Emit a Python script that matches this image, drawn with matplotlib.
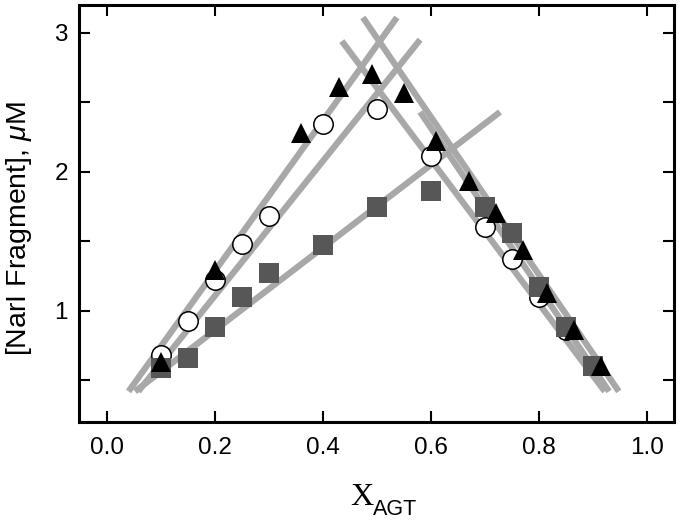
import numpy as np
import matplotlib
matplotlib.use("Agg")
import matplotlib.pyplot as plt
from matplotlib.ticker import MultipleLocator, FuncFormatter

plt.rcParams["font.family"] = ["Liberation Sans", "DejaVu Sans"]
plt.rcParams["mathtext.fontset"] = "custom"
plt.rcParams["mathtext.it"] = "Liberation Sans:italic"
plt.rcParams["mathtext.rm"] = "Liberation Sans"

# ---------------------------------------------------------------------------
# Data
# ---------------------------------------------------------------------------
x_tri = [0.10, 0.20, 0.36, 0.43, 0.49, 0.55, 0.61, 0.67, 0.72, 0.77, 0.815, 0.865, 0.915]
y_tri = [0.63, 1.29, 2.28, 2.61, 2.70, 2.57, 2.22, 1.93, 1.70, 1.44, 1.13, 0.86, 0.60]

x_circ = [0.10, 0.15, 0.20, 0.25, 0.30, 0.40, 0.50, 0.60, 0.70, 0.75, 0.80, 0.85]
y_circ = [0.68, 0.93, 1.22, 1.48, 1.68, 2.34, 2.45, 2.11, 1.60, 1.37, 1.10, 0.86]

x_sq = [0.10, 0.15, 0.20, 0.25, 0.30, 0.40, 0.50, 0.60, 0.70, 0.75, 0.80, 0.85, 0.90]
y_sq = [0.59, 0.66, 0.885, 1.10, 1.27, 1.47, 1.75, 1.86, 1.75, 1.56, 1.17, 0.88, 0.60]

# linear fits (end points of each grey line)
tri_up_x, tri_up_y = [0.040, 0.537], [0.42, 3.11]
tri_dn_x, tri_dn_y = [0.474, 0.948], [3.11, 0.42]
circ_up_x, circ_up_y = [0.058, 0.580], [0.42, 2.95]
circ_dn_x, circ_dn_y = [0.435, 0.922], [2.94, 0.42]
sq_up_x, sq_up_y = [0.052, 0.728], [0.42, 2.43]
sq_dn_x, sq_dn_y = [0.580, 0.930], [2.43, 0.42]

x_ticks = [0.0, 0.2, 0.4, 0.6, 0.8, 1.0]

# ---------------------------------------------------------------------------
# Plot
# ---------------------------------------------------------------------------
fig = plt.figure(figsize=(6.8, 5.2), dpi=100)
ax = fig.add_axes([0.116, 0.1885, 0.875, 0.802])

line_kw = dict(color="#a8a8a8", linewidth=4.5, solid_capstyle="butt", zorder=1)
for lx, ly in [(tri_up_x, tri_up_y), (tri_dn_x, tri_dn_y),
               (circ_up_x, circ_up_y), (circ_dn_x, circ_dn_y),
               (sq_up_x, sq_up_y), (sq_dn_x, sq_dn_y)]:
    ax.plot(lx, ly, **line_kw)

ax.plot(x_circ, y_circ, "o", ms=14, mfc="white", mec="black", mew=1.1,
        linestyle="none", zorder=3)
ax.plot(x_sq, y_sq, "s", ms=14.5, mfc="#575757", mec="#575757", mew=0,
        linestyle="none", zorder=4)
ax.plot(x_tri, y_tri, "^", ms=15, mfc="black", mec="black", mew=0,
        linestyle="none", zorder=5)

ax.set_xlim(-0.052, 1.05)
ax.set_ylim(0.2, 3.2)
ax.set_xticks(x_ticks)
ax.set_xticklabels([f"{v:.1f}" for v in x_ticks])
ax.yaxis.set_major_locator(MultipleLocator(0.5))
ax.yaxis.set_major_formatter(
    FuncFormatter(lambda v, p: f"{int(round(v))}" if abs(v - round(v)) < 1e-6 else ""))

ax.tick_params(direction="in", length=8, width=1.5, labelsize=17.5,
               top=True, right=True)
ax.tick_params(axis="x", pad=11)
ax.tick_params(axis="y", pad=8)
for sp in ax.spines.values():
    sp.set_linewidth(2.2)

# axis labels
fig.text(19 / 680, 1 - 229 / 520, r"[NarI Fragment], $\mathit{\mu}$M",
         rotation=90, ha="center", va="center", fontsize=20.5)
fig.text(350 / 680, 1 - 505 / 520, "X", family="Liberation Serif",
         fontsize=23, ha="left", va="baseline")
fig.text(373 / 680, 1 - 515 / 520, "AGT", fontsize=15.5,
         ha="left", va="baseline")

fig.savefig("out.png", dpi=100)
